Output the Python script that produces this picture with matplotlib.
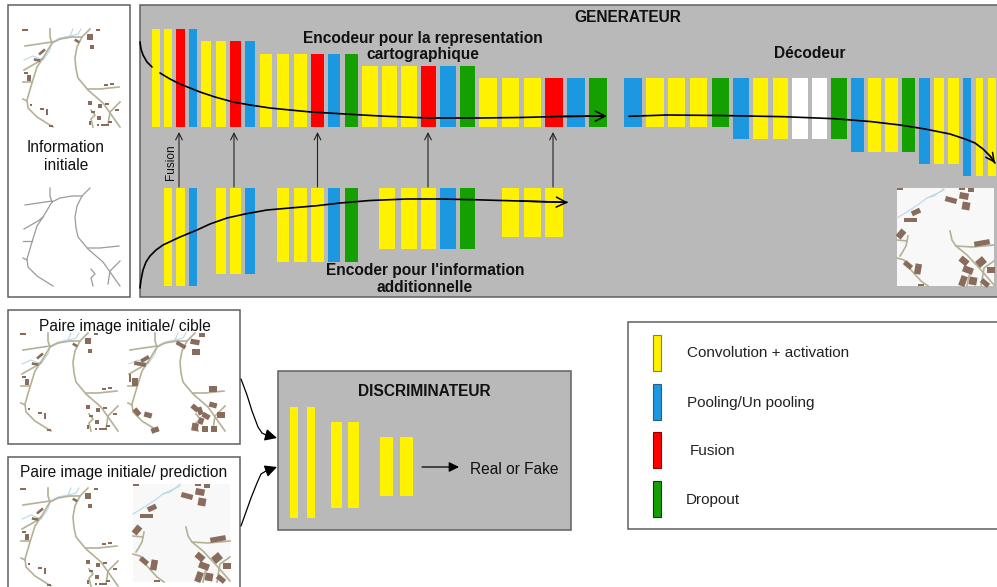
import matplotlib
matplotlib.use('Agg')
import matplotlib.pyplot as plt
from matplotlib.patches import Rectangle

plt.rcParams['font.family'] = ['Liberation Sans', 'DejaVu Sans']

YELLOW = '#fff200'
BLUE = '#1c98e0'
RED = '#ff0000'
GREEN = '#14a000'
WHITE = '#ffffff'
GREY = '#b9b9b9'
EDGE = '#5f5f5f'
ROAD = '#b4b196'
WATER = '#b9d7ea'
HOUSE = '#8a6c5c'
colors = {'Y': YELLOW, 'B': BLUE, 'R': RED, 'G': GREEN, 'W': WHITE}

# encoder for the map (kinds, left edges, right edges, bottom), all start at y=top
enc_top = [29, 41, 54, 66, 78]
enc_bottom = 127
enc_kinds = ['YYRB', 'YYRB', 'YYYRBG', 'YYYRBG', 'YYYRBG']
enc_left = [[152, 164, 176, 189], [201, 216, 230, 245], [260, 277, 294, 311, 328, 345],
            [362, 382, 401, 421, 440, 460], [479, 502, 524, 545, 567, 589]]
enc_right = [[160, 172, 185, 197], [211, 226, 241, 255], [272, 289, 307, 324, 340, 358],
             [378, 397, 417, 436, 456, 475], [497, 519, 541, 563, 585, 607]]

# decoder
dec_top = 78
dec_bottom = [127, 139, 152, 164, 176]
dec_kinds = ['BYYYG', 'BYYWWG', 'BYYG', 'BYY', 'BYY']
dec_left = [[624, 646, 668, 690, 712], [733, 753, 773, 792, 812, 831], [851, 868, 885, 902],
            [919, 934, 948], [963, 976, 988]]
dec_right = [[642, 664, 685, 707, 729], [749, 768, 788, 808, 827, 847], [864, 881, 898, 915],
             [930, 944, 959], [971, 983, 996]]

# encoder for the additional information
add_top = 188
add_bottom = [286, 274, 262, 249, 237]
add_kinds = ['YYB', 'YYB', 'YYYBG', 'YYYBG', 'YYY']
add_left = [[164, 176, 189], [216, 230, 245], [277, 294, 311, 328, 345],
            [379, 401, 421, 440, 460], [502, 524, 545]]
add_right = [[172, 185, 197], [226, 241, 255], [289, 307, 324, 340, 358],
             [395, 417, 436, 456, 475], [519, 541, 563]]

# discriminator
disc_top = [407, 422, 437]
disc_bottom = [518, 508, 496]
disc_kinds = ['YY', 'YY', 'YY']
disc_left = [[290, 307], [331, 348], [380, 400]]
disc_right = [[298, 315], [342, 359], [393, 413]]

fusion_x = [179, 234, 317.5, 428, 553]

curve_top_a = [(140, 42), (141, 49), (143, 55), (147, 62), (152, 67)]
curve_top_b = [(160, 73), (170, 79), (180, 84), (190, 88), (200, 92), (215, 97), (233, 102), (250, 105),
               (270, 108), (290, 110), (311, 112), (345, 114), (380, 116), (428, 118), (480, 118),
               (520, 117.5), (560, 116.5), (605, 116)]
curve_dec = [(629, 116.3), (667, 115), (720, 115.5), (784, 116.7), (834, 118.7), (870, 121.5), (900, 125),
             (925, 129), (950, 134), (965, 139), (975, 143), (983, 149), (990, 156), (995, 163)]
curve_add = [(140, 288), (141, 280), (143, 270), (146, 262), (150, 256), (156, 250), (163, 245), (180, 237),
             (197, 230), (210, 224), (227, 218), (245, 214), (267, 210), (290, 208), (317, 205.7),
             (340, 203), (370, 200.5), (407, 199), (440, 199), (473, 199.7), (520, 201), (567, 202.3)]
link_cible = [(241, 379), (247, 395), (252, 411), (258, 427), (262, 433), (266, 435)]
link_pred = [(241, 526), (246, 512), (251, 498), (257, 483), (261, 474), (266, 471)]

# map content, coordinates inside a 97x98 tile
roads = [[(2, 17), (29, 13)],
         [(27, 0), (27, 8), (29, 14)],
         [(67, 0), (59, 8), (54, 18), (52, 29), (53, 40), (55, 49), (65, 61), (80, 74), (97, 98)],
         [(29, 14), (37, 10), (49, 8), (59, 8)],
         [(29, 14), (20, 29), (14, 38), (9, 54), (4, 71), (5, 79), (14, 88), (30, 98)],
         [(65, 60), (77, 60), (96, 58)],
         [(85, 96), (87, 83), (97, 73)],
         [(0, 53), (9, 53)],
         [(0, 70), (4, 72)],
         [(68, 81), (72, 86), (68, 90), (70, 98)],
         [(1, 41), (15, 33), (20, 29)]]
streams = [[(29, 13), (37, 9), (47, 7), (50, 0)],
           [(32, 12), (40, 9), (55, 5), (58, 0)],
           [(1, 31), (10, 27), (20, 31), (27, 21), (29, 14)]]
houses_small = [(2, 1, 4, 1.5, 0), (75, 1, 3, 1.5, 0), (67, 8, 5, 4, 0), (54, 12, 4, 2, 30), (69, 18, 3, 3, 0),
                (19, 23, 6, 2, -40), (14, 31, 5, 2, 10), (3, 44, 3, 2, 0), (6, 49, 3, 4, 0), (83, 56, 3, 2, 0),
                (89, 55, 3, 2, 0), (8, 76, 2, 2, 0), (19, 80, 3, 2, 0), (24, 83, 2, 4, 0), (28, 97, 3, 2, 0),
                (67, 74, 3, 3, 0), (77, 77, 3, 3, 0), (84, 75, 3, 2, 0), (70, 83, 3, 2, 0), (76, 89, 3, 3, 0),
                (94, 81, 3, 2, 0), (67, 94, 2, 3, 0), (75, 96, 2, 2, 0), (80, 96, 3, 2, 0), (84, 96, 3, 2, 0),
                (87, 93, 3, 2, 0)]
houses_target = [(67, 9, 7, 4, 10), (68, 19, 6, 5, 0), (53, 12, 8, 3, 30), (74, 2, 5, 3, 0), (17, 26, 7, 3, -30),
                 (12, 31, 9, 3, 10), (7, 49, 4, 6, 0), (2, 45, 2, 6, 0), (85, 56, 6, 4, 0), (85, 72, 6, 4, 15),
                 (67, 75, 6, 4, 40), (72, 78, 4, 6, -20), (78, 83, 6, 4, 30), (73, 88, 4, 5, 20), (93, 82, 6, 4, 0),
                 (67, 94, 5, 6, 10), (77, 96, 5, 4, 0), (86, 96, 5, 5, 0), (9, 79, 6, 4, 50), (20, 82, 6, 4, 15),
                 (27, 97, 6, 4, -20)]
pred_roads = [[(53, 43), (55, 52), (59, 58), (70, 67), (84, 82), (97, 97)],
              [(59, 58), (75, 59), (97, 57)],
              [(11, 48), (9, 58), (5, 65), (3, 68)],
              [(0, 52), (10, 53)],
              [(0, 70), (7, 72), (14, 82), (24, 93), (31, 98)],
              [(97, 73), (87, 80), (84, 98)],
              [(70, 98), (72, 88), (75, 83)]]
pred_streams = [[(0, 30), (13, 22), (22, 16), (30, 10), (47, 2)],
                [(30, 10), (37, 8), (44, 3), (47, 0)]]
houses_pred = [(67, 8, 7, 5, 10), (69, 18, 6, 6, 10), (54, 12, 9, 4, 15), (19, 24, 7, 4, -25), (13, 32, 10, 3, 0),
               (4, 46, 5, 7, 40), (85, 55, 12, 4, -10), (67, 73, 7, 5, 40), (84, 74, 7, 6, -40), (71, 82, 8, 5, 20),
               (94, 82, 6, 4, 0), (11, 77, 7, 4, 40), (21, 81, 5, 8, 10), (66, 93, 5, 8, 20), (76, 93, 6, 6, 10),
               (88, 95, 7, 4, 40), (65, 1, 5, 2, 0), (74, 2, 5, 3, 0), (3, 1, 5, 2, 0), (24, 97, 4, 2, 0)]

legend_labels = ['Convolution + activation', 'Pooling/Un pooling', 'Fusion', 'Dropout']
legend_colors = [YELLOW, BLUE, RED, GREEN]
legend_edges = ['#8a8420', '#2a5f86', '#900000', '#0c3c00']
legend_top = [335, 384, 432, 481]
legend_text_x = [687, 687, 690, 686]
legend_text_y = [353, 403, 451, 500]


def box(ax, x0, y0, x1, y1, face):
    ax.add_patch(Rectangle((x0, y0), x1 - x0, y1 - y0, facecolor=face, edgecolor=EDGE, linewidth=1.1, zorder=1))


def draw_blocks(ax, kinds, lefts, rights, tops, bottoms):
    for k, l, r, t, b in zip(kinds, lefts, rights, tops, bottoms):
        for code, x0, x1 in zip(k, l, r):
            ax.bar(x0, b - t, width=x1 - x0, bottom=t, align='edge', color=colors[code], linewidth=0, zorder=2)


def draw_curve(ax, pts, lw=1.2):
    ax.plot([p[0] for p in pts], [p[1] for p in pts], color='black', lw=lw, zorder=3,
            solid_joinstyle='round', solid_capstyle='round')


def arrow_end(ax, start, tip, style='->', size=14, lw=1.1, color='black'):
    ax.annotate('', xy=tip, xytext=start, zorder=4,
                arrowprops=dict(arrowstyle=style, mutation_scale=size, lw=lw, color=color,
                                shrinkA=0, shrinkB=0))


def draw_map(ax, x0, y0, road_list, stream_list, house_list, road_color=ROAD, lw=1.2, back=None, grow=1.3):
    if back:
        ax.add_patch(Rectangle((x0, y0), 97, 98, facecolor=back, edgecolor='none', zorder=2))
    for s in stream_list:
        ax.plot([x0 + p[0] for p in s], [y0 + p[1] for p in s], color=WATER, lw=0.8, zorder=2.1)
    for r in road_list:
        ax.plot([x0 + p[0] for p in r], [y0 + p[1] for p in r], color=road_color, lw=lw, zorder=2.2,
                solid_joinstyle='round')
    for x, y, w, h, ang in house_list:
        w, h = w * grow, h * grow
        ax.add_patch(Rectangle((x0 + x - w / 2, y0 + y - h / 2), w, h, angle=ang, rotation_point='center',
                               facecolor=HOUSE, edgecolor='none', zorder=2.3))


fig = plt.figure(figsize=(9.97, 5.87), dpi=100)
ax = fig.add_axes([0, 0, 1, 1])
ax.set_xlim(0, 997)
ax.set_ylim(587, 0)
ax.axis('off')

# boxes
box(ax, 8, 5, 130, 297, 'white')
box(ax, 140, 5, 1010, 297, GREY)
box(ax, 8, 310, 240, 444, 'white')
box(ax, 8, 457, 240, 600, 'white')
box(ax, 278, 371, 571, 530, GREY)
box(ax, 628, 322, 1010, 529, 'white')

# generator blocks
draw_blocks(ax, enc_kinds, enc_left, enc_right, enc_top, [enc_bottom] * 5)
draw_blocks(ax, dec_kinds, dec_left, dec_right, [dec_top] * 5, dec_bottom)
draw_blocks(ax, add_kinds, add_left, add_right, [add_top] * 5, add_bottom)
draw_blocks(ax, disc_kinds, disc_left, disc_right, disc_top, disc_bottom)

# fusion arrows
for x in fusion_x:
    arrow_end(ax, (x, 187), (x, 132), size=12, lw=0.8, color='#222222')

# flow curves
draw_curve(ax, curve_top_a)
draw_curve(ax, curve_top_b)
arrow_end(ax, curve_top_b[-2], (607, 116), size=18)
draw_curve(ax, curve_dec)
arrow_end(ax, curve_dec[-2], curve_dec[-1], size=15)
draw_curve(ax, curve_add)
arrow_end(ax, curve_add[-2], (568, 202.5), size=18)

# discriminator links
draw_curve(ax, link_cible, lw=0.9)
arrow_end(ax, link_cible[-1], (277, 438), style='-|>', size=18, lw=0.9)
draw_curve(ax, link_pred, lw=0.9)
arrow_end(ax, link_pred[-1], (277, 467), style='-|>', size=18, lw=0.9)
arrow_end(ax, (422, 467), (459, 467), style='-|>', size=15, lw=0.9)

# maps
draw_map(ax, 23, 29, roads, streams, houses_small)
draw_map(ax, 23, 188, roads, [], [], road_color='#9a9a9a', lw=0.9)
draw_map(ax, 21, 333, roads, streams, houses_small)
draw_map(ax, 128, 333, roads, streams, houses_target)
draw_map(ax, 21, 488, roads, streams, houses_small)
draw_map(ax, 133, 484, pred_roads, pred_streams, houses_pred, back='#f8f8f8')
draw_map(ax, 897, 188, pred_roads, pred_streams, houses_pred, back='#f8f8f8')

# legend
for t, c, e in zip(legend_top, legend_colors, legend_edges):
    ax.add_patch(Rectangle((653, t), 8, 36, facecolor=c, edgecolor=e, linewidth=0.8, zorder=2))
for s, x, y in zip(legend_labels, legend_text_x, legend_text_y):
    ax.text(x, y, s, fontsize=11, color='#222222', ha='left', va='center')

# texts
bold = dict(fontsize=11.2, fontweight='bold', color='#111111', ha='center', va='center')
plain = dict(fontsize=11.2, color='#111111', ha='center', va='center')
ax.text(628, 18, 'GENERATEUR', **bold)
ax.text(423, 38, 'Encodeur pour la representation', **bold)
ax.text(423, 55, 'cartographique', **bold)
ax.text(810, 54, 'Décodeur', **bold)
ax.text(425, 270, "Encoder pour l'information", **bold)
ax.text(425, 287, 'additionnelle', **bold)
ax.text(424, 391, 'DISCRIMINATEUR', **bold)
ax.text(66, 148, 'Information', **plain)
ax.text(66, 165, 'initiale', **plain)
ax.text(125, 327, 'Paire image initiale/ cible', **plain)
ax.text(124, 473, 'Paire image initiale/ prediction', **plain)
ax.text(514, 469, 'Real or Fake', **plain)
ax.text(171, 162, 'Fusion', fontsize=8.6, color='#111111', rotation=90, ha='center', va='center')

fig.savefig('out.png', dpi=100)
